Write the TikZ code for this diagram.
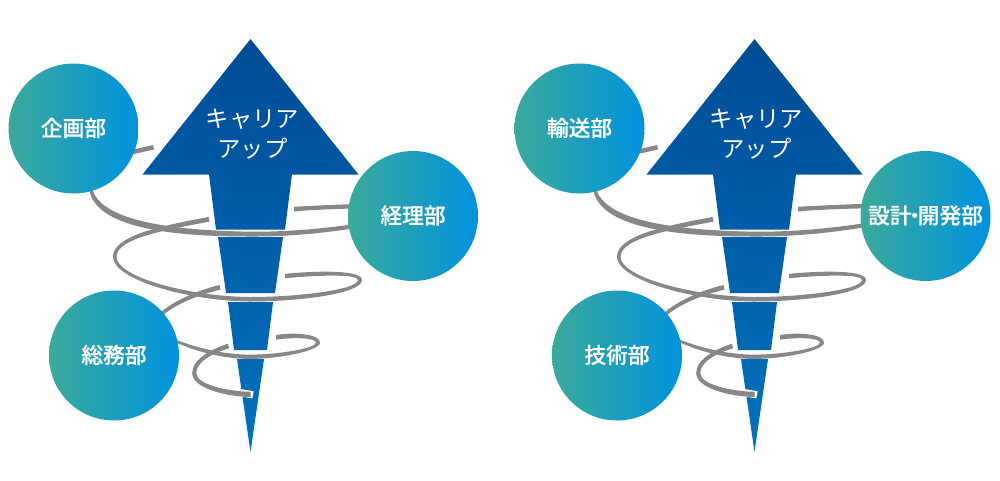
\documentclass[tikz,border=0pt]{standalone}
\usepackage{fontspec}
\newfontfamily\cjk{Noto Sans CJK JP}
\newfontfamily\cjkm[RawFeature={embolden=0.5}]{Noto Sans CJK JP Medium}
\definecolor{spiralgray}{HTML}{878787}
\definecolor{circgreen}{HTML}{3BAA9B}
\definecolor{circblue}{HTML}{0092DE}
\definecolor{arrowtop}{HTML}{004D96}
\definecolor{arrowbot}{HTML}{0071BC}
\tikzset{
  dept/.style={circle,minimum size=97.5pt,inner sep=0pt,shade,shading=axis,left color=circgreen,right color=circblue,text=white,font=\cjkm\fontsize{16.3}{18}\selectfont},
  title/.style={align=center,text=white,inner sep=0pt,font=\cjk\fontsize{17.5}{22}\selectfont},
  ribbon/.style={fill=spiralgray,draw=none},
  arrowshape/.style={shade,shading=axis,top color=arrowtop,bottom color=arrowbot,shading angle=-8,draw=none}
}
\newcommand{\careerunit}{%
  \path[arrowshape]
    (250.5,39) -- (358.5,174.5) -- (292,174.5) -- (285,229.5) -- (216,229.5) -- (209,174.5) -- (142.5,174.5) -- cycle
    (218,237) -- (283,237) -- (275,293) -- (226,293) -- cycle
    (228,302) -- (273,302) -- (267,350) -- (234,350) -- cycle
    (237,359) -- (264,359) -- (250.5,452) -- cycle;
  \fill[ribbon] (125,151.5) -- (153,145) -- (154,149.5) -- (125,156) -- cycle;
  % band A
  \fill[ribbon] (92.5,190) .. controls (104,225) and (190,230.5) .. (250,231.7) .. controls (290,232) and (330,228) .. (365,222.5)
     -- (365,226.5) .. controls (330,232.5) and (290,236.8) .. (250,236.5) .. controls (185,236.5) and (98,231) .. (89.5,191) -- cycle;
  % band B
  \fill[ribbon] (294,206.8) .. controls (315,205.5) and (340,204.5) .. (362,203.8)
     -- (362,208.3) .. controls (340,208.8) and (315,209.5) .. (294,211.5) -- cycle;
  % band C
  \fill[ribbon] (208.5,217) .. controls (160,226) and (113,236) .. (113,256.7)
     .. controls (113,280) and (190,301) .. (250,301.5)
     .. controls (300,301.5) and (362,293.5) .. (362,280)
     .. controls (362,270) and (320,270.5) .. (285,273.8)
     -- (285,278.2) .. controls (320,275) and (358,274) .. (358,280)
     .. controls (358,289.5) and (300,297) .. (250,297)
     .. controls (190,296.5) and (116.5,277.5) .. (116.5,256.7)
     .. controls (116.5,238.5) and (165,230) .. (209.5,221.6) -- cycle;
  % band D
  \fill[ribbon] (219.5,285) .. controls (195,291) and (172,302) .. (160,313)
     -- (162.5,315.5) .. controls (176,304) and (198,295) .. (220.5,289.6) -- cycle;
  % band E
  \fill[ribbon] (172,340.5) .. controls (195,352) and (225,358.9) .. (250,358.9)
     .. controls (280,358.9) and (320,350.5) .. (320,342.7)
     .. controls (320,334) and (295,332) .. (276,335)
     -- (276,339.6) .. controls (295,337) and (316,337.8) .. (316,342.7)
     .. controls (316,348) and (280,354.6) .. (250,354.6)
     .. controls (225,354.6) and (195,348) .. (172,338) -- cycle;
  % band F with white halo
  \draw[white,line width=5.5pt] (236,392) -- (253,394.8);
  \fill[ribbon] (228,343.7) .. controls (212,349) and (192.2,359) .. (192.2,373)
     .. controls (192.2,388) and (225,396.5) .. (250.7,397)
     -- (250.7,391.8) .. controls (225,391.2) and (196.2,384) .. (196.2,373)
     .. controls (196.2,361) and (215,352.5) .. (229,348.3) -- cycle;
}
\newcommand{\lift}[1]{\raisebox{2.3pt}{#1}}
\begin{document}
\begin{tikzpicture}[x=0.75pt,y=-0.75pt]
\useasboundingbox (0,0) rectangle (1000,480);
\begin{scope}\careerunit\end{scope}
\begin{scope}[xshift=378pt]\careerunit\end{scope}
\node[title] (titleL) at (252.5,134) {キャリア\\アップ};
\node[title] (titleR) at (756.5,134) {キャリア\\アップ};
\node[dept] (kikaku) at (73.5,128.5) {\lift{企画部}};
\node[dept] (keiri) at (413,216) {\lift{経理部}};
\node[dept] (soumu) at (114,355.5) {\lift{総務部}};
\node[dept] (yusou) at (579.5,128.5) {\lift{輸送部}};
\node[dept] (sekkei) at (925.5,216) {\lift{設計\hspace{-.36em}・\hspace{-.36em}開発部}};
\node[dept] (gijutsu) at (617,355.5) {\lift{技術部}};
\end{tikzpicture}
\end{document}
